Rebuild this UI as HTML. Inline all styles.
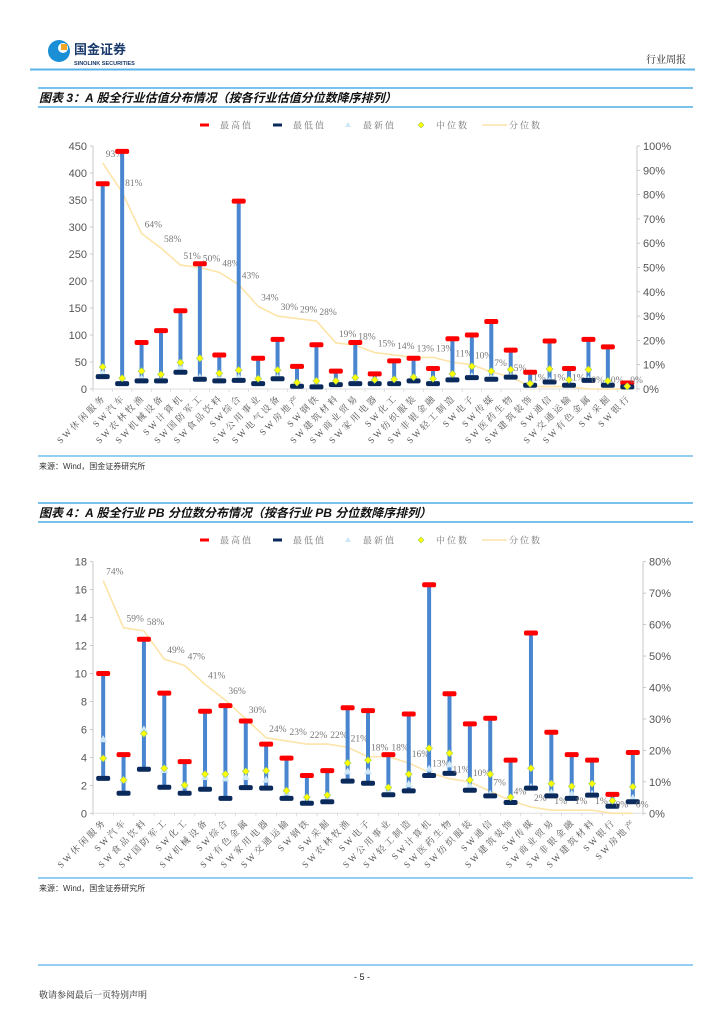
<!DOCTYPE html>
<html><head><meta charset="utf-8"><style>
body{margin:0;background:#fff;width:724px;height:1024px;overflow:hidden;font-family:"Liberation Sans","Noto Sans CJK SC",sans-serif}
svg{display:block}
</style></head><body>
<svg id="page" width="724" height="1024" xmlns="http://www.w3.org/2000/svg" font-family="Liberation Sans, Noto Sans CJK SC, sans-serif">
<g>
<circle cx="59" cy="51" r="11" fill="#1a8fd6"/>
<circle cx="63" cy="48" r="5" fill="#fff"/>
<rect x="61" y="44" width="6" height="6" fill="#f5a623"/>
<text x="74" y="54" font-size="13" font-weight="bold" fill="#1a3a6b" font-family="Noto Sans CJK SC, sans-serif">国金证券</text>
<text x="74" y="65" font-size="5.5" font-weight="bold" fill="#1a3a6b">SINOLINK SECURITIES</text>
<text x="686" y="63" font-size="10" text-anchor="end" fill="#222" font-family="Noto Serif CJK SC, serif">行业周报</text>
<rect x="30" y="68.5" width="665" height="2" fill="#5ab4e8"/>
</g>
<g>
<line x1="38" y1="88" x2="693" y2="88" stroke="#2a9de0" stroke-width="1.2"/>
<line x1="38" y1="107" x2="693" y2="107" stroke="#2a9de0" stroke-width="1.2"/>
<text x="39" y="102" font-size="12" font-weight="bold" font-style="italic" fill="#111">图表 3：A 股全行业估值分布情况（按各行业估值分位数降序排列）</text>
</g>
<g id="chart1"></g>
<g>
<line x1="38" y1="456" x2="693" y2="456" stroke="#2a9de0" stroke-width="1"/>
<text x="39" y="469" font-size="8" fill="#333">来源：Wind，国金证券研究所</text>
</g>
<g>
<line x1="38" y1="503" x2="693" y2="503" stroke="#2a9de0" stroke-width="1.2"/>
<line x1="38" y1="522" x2="693" y2="522" stroke="#2a9de0" stroke-width="1.2"/>
<text x="39" y="517" font-size="12" font-weight="bold" font-style="italic" fill="#111">图表 4：A 股全行业 PB 分位数分布情况（按各行业 PB 分位数降序排列）</text>
</g>
<g id="chart2"></g>
<g>
<line x1="38" y1="878" x2="693" y2="878" stroke="#2a9de0" stroke-width="1"/>
<text x="39" y="891" font-size="8" fill="#333">来源：Wind，国金证券研究所</text>
</g>
<g>
<line x1="38" y1="965" x2="693" y2="965" stroke="#2a9de0" stroke-width="1"/>
<text x="362" y="980" font-size="9" text-anchor="middle" fill="#222">- 5 -</text>
<text x="39" y="998" font-size="9" fill="#222" font-family="Noto Serif CJK SC, serif">敬请参阅最后一页特别声明</text>
</g>
</svg>
<script>
const cats1 = ["休闲服务","汽车","农林牧渔","机械设备","计算机","国防军工","食品饮料","综合","公用事业","电气设备","房地产","钢铁","建筑材料","商业贸易","家用电器","化工","纺织服装","非银金融","轻工制造","电子","传媒","医药生物","建筑装饰","通信","交通运输","有色金属","采掘","银行"];
const high1 = [380,440,86,108,145,232,63,348,57,92,42,82,33,86,28,52,57,38,93,100,125,72,31,89,38,92,78,11];
const low1 = [23,10,15,15,31,18,15,16,10,19,5,4,8,10,10,10,15,10,17,21,18,22,7,13,7,16,7,4];
const latest1 = [30,14,20,18,40,22,20,22,14,22,8,7,10,14,12,12,17,12,20,24,22,24,9,16,9,18,9,5];
const median1 = [41,20,33,27,49,57,29,35,19,35,12,15,15,21,17,18,22,19,28,42,33,36,10,37,17,36,15,5];
const pct1 = [93,81,64,58,51,50,48,43,34,30,29,28,19,18,15,14,13,13,11,10,7,5,1,1,1,0,0,0];
const yTicks1 = [0,50,100,150,200,250,300,350,400,450];
const pTicks1 = [0,10,20,30,40,50,60,70,80,90,100];

const cats2 = ["休闲服务","汽车","食品饮料","国防军工","化工","机械设备","综合","有色金属","家用电器","交通运输","钢铁","采掘","农林牧渔","电子","公用事业","轻工制造","计算机","医药生物","纺织服装","通信","建筑装饰","传媒","商业贸易","非银金融","建筑材料","银行","房地产"];
const high2 = [10.0,4.2,12.45,8.6,3.7,7.3,7.7,6.6,4.95,3.95,2.7,3.05,7.55,7.35,4.2,7.1,16.35,8.55,6.4,6.8,3.8,12.9,5.8,4.2,3.8,1.35,4.35];
const low2 = [2.5,1.43,3.15,1.86,1.43,1.72,1.07,1.84,1.8,1.07,0.72,0.83,2.3,2.15,1.33,1.6,2.7,2.86,1.65,1.25,0.77,1.8,1.25,1.07,1.3,0.5,0.83];
const latest2 = [5.3,2.4,6.0,3.1,2.0,2.6,2.5,2.6,2.4,1.5,0.8,1.0,3.0,3.0,1.5,2.1,3.2,3.5,2.0,1.4,1.0,1.9,1.5,1.4,1.4,0.6,1.1];
const median2 = [3.93,2.38,5.7,3.22,2.02,2.8,2.8,3.0,3.05,1.62,1.15,1.3,3.6,3.8,1.85,2.8,4.65,4.3,2.38,2.8,1.15,3.22,2.12,1.93,2.12,0.9,1.9];
const pct2 = [74,59,58,49,47,41,36,30,24,23,22,22,21,18,18,16,13,11,10,7,4,2,1,1,1,0,0];
const yTicks2 = [0,2,4,6,8,10,12,14,16,18];
const pTicks2 = [0,10,20,30,40,50,60,70,80];

const NS = "http://www.w3.org/2000/svg";
function mk(parent, tag, attrs, txt){
  const e = document.createElementNS(NS, tag);
  for (const k in attrs) e.setAttribute(k, attrs[k]);
  if (txt !== undefined) e.textContent = txt;
  parent.appendChild(e);
  return e;
}
function drawChart(g, cfg){
  const {cats, high, low, latest, median, pct, yTicks, pTicks, x0, x1, yTop, yBot, yMax, pMax, legY, prefix} = cfg;
  const n = cats.length, step = (x1 - x0) / n;
  const xs = i => x0 + step * (i + 0.5);
  const ys = v => yBot - (v / yMax) * (yBot - yTop);
  const yp = v => yBot - (v / pMax) * (yBot - yTop);
  const leg = mk(g, "g", {});
  
  
  const lt = [["最高值",205],["最低值",278],["最新值",348],["中位数",421],["分位数",482]];
  mk(leg,"rect",{x:200,y:legY-1.5,width:9,height:3,fill:"#ff0000"});
  mk(leg,"rect",{x:273,y:legY-1.5,width:9,height:3,fill:"#0b2a5c"});
  mk(leg,"path",{d:`M${348},${legY-3} L${351},${legY+2} L${345},${legY+2}Z`,fill:"#cfe8f8"});
  mk(leg,"path",{d:`M${421},${legY-3} L${424},${legY} L${421},${legY+3} L${418},${legY}Z`,fill:"#ffff00",stroke:"#9ccc65","stroke-width":0.6});
  mk(leg,"line",{x1:482,y1:legY,x2:507,y2:legY,stroke:"#fde4a8","stroke-width":1.5});
  lt.forEach((t,i)=>{
    const te = mk(leg,"text",{x:(i<4?t[1]+15:t[1]+27),y:legY+3.5,"font-size":9,fill:"#777","letter-spacing":2,"font-family":"Noto Serif CJK SC, serif"}, t[0]);
    
    
  });
  mk(g,"line",{x1:x0,y1:yTop,x2:x0,y2:yBot,stroke:"#bbb","stroke-width":0.8});
  mk(g,"line",{x1:x1,y1:yTop,x2:x1,y2:yBot,stroke:"#bbb","stroke-width":0.8});
  mk(g,"line",{x1:x0,y1:yBot,x2:x1,y2:yBot,stroke:"#ddd","stroke-width":1});
  yTicks.forEach(v=>{
    mk(g,"line",{x1:x0-3,y1:ys(v),x2:x0,y2:ys(v),stroke:"#bbb","stroke-width":0.8});
    const t = mk(g,"text",{x:x0-6,y:ys(v)+4,"font-size":11,"text-anchor":"end",fill:"#555"}, String(v));
    
    
  });
  pTicks.forEach(v=>{
    mk(g,"line",{x1:x1,y1:yp(v),x2:x1+3,y2:yp(v),stroke:"#bbb","stroke-width":0.8});
    const t = mk(g,"text",{x:x1+6,y:yp(v)+4,"font-size":11,fill:"#555"}, v+"%");
    
    
  });
  for(let i=0;i<=n;i++) mk(g,"line",{x1:x0+step*i,y1:yBot,x2:x0+step*i,y2:yBot+3,stroke:"#ccc","stroke-width":0.6});
  const pl = mk(g,"polyline",{points:pct.map((v,i)=>xs(i)+","+yp(v)).join(" "),fill:"none",stroke:"#fde4a8","stroke-width":1.6});
  
  
  for(let i=0;i<n;i++){
    const x = xs(i);
    const w = mk(g,"line",{x1:x,y1:ys(low[i]),x2:x,y2:ys(high[i]),stroke:"#4a86d0","stroke-width":4});
    
    
    const tr = mk(g,"path",{d:`M${x},${ys(latest[i])-4} L${x+4},${ys(latest[i])+3} L${x-4},${ys(latest[i])+3}Z`,fill:"#cfe8f8"});
    
    
    const hc = mk(g,"rect",{x:x-7,y:ys(high[i])-2.5,width:14,height:5,rx:2,fill:"#ff0000"});
    
    
    const lc = mk(g,"rect",{x:x-7,y:ys(low[i])-2.5,width:14,height:5,rx:2,fill:"#0b2a5c"});
    
    
    const my = ys(median[i]);
    const md = mk(g,"path",{d:`M${x},${my-3.5} L${x+3.5},${my} L${x},${my+3.5} L${x-3.5},${my}Z`,fill:"#ffff00",stroke:"#9ccc65","stroke-width":0.6});
    
    
    const pt = mk(g,"text",{x:x+3,y:yp(pct[i])-6,"font-size":9.5,fill:"#777","font-family":"Liberation Serif, serif"}, pct[i]+"%");
    
    
    const cl = mk(g,"text",{x:x+4,y:yBot+9,"font-size":9,"letter-spacing":2.6,"text-anchor":"end",fill:"#555","font-family":"Liberation Serif, Noto Serif CJK SC, serif",transform:`rotate(-45 ${x+4} ${yBot+9})`}, "SW"+cats[i]);
    
    
  }
}
drawChart(document.getElementById("chart1"),{cats:cats1,high:high1,low:low1,latest:latest1,median:median1,pct:pct1,yTicks:yTicks1,pTicks:pTicks1,x0:93,x1:637,yTop:146,yBot:389,yMax:450,pMax:100,legY:125,prefix:"pe"});
drawChart(document.getElementById("chart2"),{cats:cats2,high:high2,low:low2,latest:latest2,median:median2,pct:pct2,yTicks:yTicks2,pTicks:pTicks2,x0:93,x1:643,yTop:561.7,yBot:813.3,yMax:18,pMax:80,legY:540,prefix:"pb"});
</script>
</body></html>
